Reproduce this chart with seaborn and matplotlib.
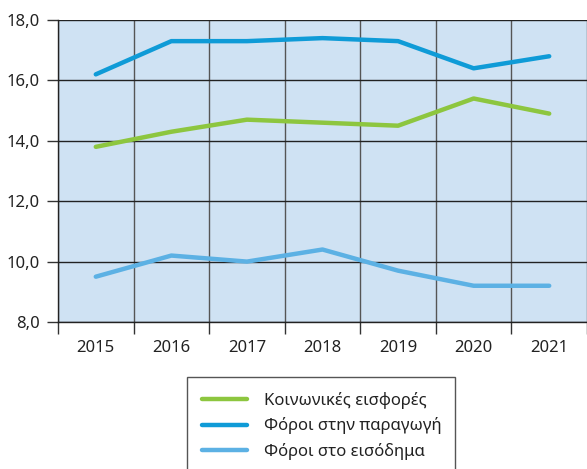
import numpy as np
import pandas as pd
import seaborn as sns
import matplotlib.pyplot as plt
from matplotlib.ticker import FixedLocator, FuncFormatter

years = ["2015", "2016", "2017", "2018", "2019", "2020", "2021"]
koinonikes = [13.8, 14.3, 14.7, 14.6, 14.5, 15.4, 14.9]
paragogi = [16.2, 17.3, 17.3, 17.4, 17.3, 16.4, 16.8]
eisodima = [9.5, 10.2, 10.0, 10.4, 9.7, 9.2, 9.2]

names = ["Κοινωνικές εισφορές", "Φόροι στην παραγωγή", "Φόροι στο εισόδημα"]
colors = ["#8dc63f", "#0f9bd7", "#5cb1e4"]

rows = []
for name, vals in zip(names, [koinonikes, paragogi, eisodima]):
    for i, v in enumerate(vals):
        rows.append({"pos": i, "value": v, "series": name})
df = pd.DataFrame(rows)

sns.set_style("white")
plt.rcParams["font.family"] = ["Noto Sans", "DejaVu Sans"]

fig = plt.figure(figsize=(5.87, 4.69), dpi=100)
ax = fig.add_axes([58 / 587, 1 - 322 / 469, 1 - 58 / 587, (322 - 20) / 469])
ax.set_facecolor("#cfe2f3")

sns.lineplot(data=df, x="pos", y="value", hue="series", hue_order=names,
             palette=colors, linewidth=3.2, ax=ax, legend=False)

ax.set_xlim(-0.5, 6.5)
ax.set_ylim(8, 18)
ax.set_xlabel("")
ax.set_ylabel("")

ax.xaxis.set_major_locator(FixedLocator(np.arange(len(years))))
ax.set_xticklabels(years)
ax.xaxis.set_minor_locator(FixedLocator(np.arange(-0.5, len(years), 1.0)))
ax.tick_params(axis="x", which="major", length=0, labelsize=12, pad=13, colors="#222222")
ax.tick_params(axis="x", which="minor", length=8.5, width=1, color="#333333", bottom=True)
ax.set_yticks(np.arange(8, 18.1, 2))
ax.yaxis.set_major_formatter(FuncFormatter(lambda v, p: f"{v:.1f}".replace(".", ",")))
ax.tick_params(axis="y", length=8, width=1, color="#333333", labelsize=12, pad=5, left=True,
               labelcolor="#222222")

ax.grid(True, axis="y", which="major", color="#222222", linewidth=1)
ax.grid(True, axis="x", which="minor", color="#555555", linewidth=1)
ax.grid(False, axis="x", which="major")
for s in ["top", "right"]:
    ax.spines[s].set_visible(False)
for s in ["left", "bottom"]:
    ax.spines[s].set_color("#222222")
    ax.spines[s].set_linewidth(1)

handles = [plt.Line2D([], [], color=c, linewidth=3.2) for c in colors]
leg = fig.legend(handles, names, loc="upper left",
                 bbox_to_anchor=(187 / 587, 1 - 377 / 469, 268 / 587, 0),
                 mode="expand", fontsize=12, frameon=True, fancybox=False,
                 framealpha=1, facecolor="white",
                 handlelength=2.7, handletextpad=1.0, labelspacing=0.5,
                 borderpad=0.9, borderaxespad=0)
leg.get_frame().set_edgecolor("#555555")
leg.get_frame().set_linewidth(1)
for t in leg.get_texts():
    t.set_color("#222222")

fig.savefig("out.png", dpi=100)
